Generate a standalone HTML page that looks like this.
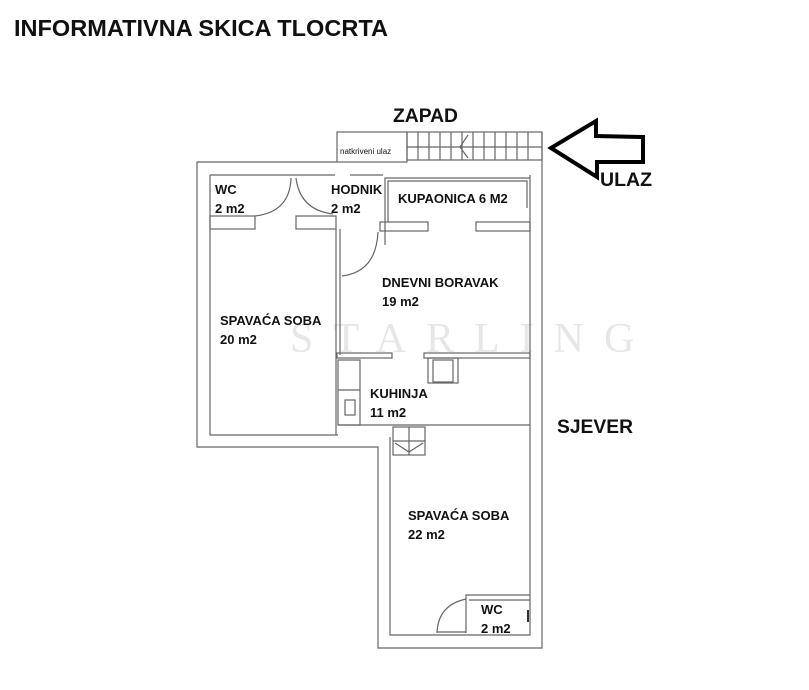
<!DOCTYPE html>
<html><head><meta charset="utf-8"><style>
html,body{margin:0;padding:0;background:#fff;}
svg{display:block;}
text{font-family:"Liberation Sans",Arial,sans-serif;font-weight:bold;fill:#111;}
</style></head><body>
<svg width="809" height="690" viewBox="0 0 809 690" xmlns="http://www.w3.org/2000/svg">
<text x="290" y="352" font-size="42" fill="#000" fill-opacity="0.1" style="font-family:'Liberation Serif',serif;font-weight:normal" letter-spacing="20">STARLING</text>

<text x="14" y="36" font-size="23" textLength="374" lengthAdjust="spacingAndGlyphs">INFORMATIVNA SKICA TLOCRTA</text>
<text x="393" y="122" font-size="19" textLength="65" lengthAdjust="spacingAndGlyphs">ZAPAD</text>
<text x="600" y="186" font-size="19" textLength="52" lengthAdjust="spacingAndGlyphs">ULAZ</text>
<text x="557" y="433" font-size="19" textLength="76" lengthAdjust="spacingAndGlyphs">SJEVER</text>

<g fill="none" stroke="#666" stroke-width="1.2">
<polyline points="337,162 197,162 197,447 378,447 378,648 542,648 542,132"/>
<polyline points="210,175 210,435 338,435"/>
<polyline points="390,437 390,635 530,635 530,175"/>
<line x1="338" y1="425" x2="530" y2="425"/>
<line x1="210" y1="175" x2="335" y2="175"/>
<line x1="350" y1="175" x2="383" y2="175"/>
<rect x="337" y="132" width="70" height="30"/>
<rect x="407" y="132" width="135" height="28"/>
<line x1="407" y1="147" x2="542" y2="147"/>
<g>
<line x1="418" y1="132" x2="418" y2="160"/><line x1="429" y1="132" x2="429" y2="160"/>
<line x1="440" y1="132" x2="440" y2="160"/><line x1="451" y1="132" x2="451" y2="160"/>
<line x1="462" y1="132" x2="462" y2="160"/><line x1="473" y1="132" x2="473" y2="160"/>
<line x1="484" y1="132" x2="484" y2="160"/><line x1="495" y1="132" x2="495" y2="160"/>
<line x1="506" y1="132" x2="506" y2="160"/><line x1="517" y1="132" x2="517" y2="160"/>
<line x1="528" y1="132" x2="528" y2="160"/>
<polyline points="468,135 460,147 468,158"/>
</g>
<rect x="210" y="216" width="45" height="13"/>
<rect x="296" y="216" width="40" height="13"/>
<line x1="336" y1="229" x2="336" y2="435"/>
<line x1="340" y1="229" x2="340" y2="355"/>
<path d="M255,216 Q290,212 291,178"/>
<path d="M296,178 Q300,210 333,214"/>
<path d="M342,276 Q376,272 378,232"/>
<polyline points="385,232 385,178 530,178"/>
<polyline points="388,222 388,181 527,181 527,208"/>
<rect x="380" y="222" width="48" height="9"/>
<rect x="476" y="222" width="54" height="9"/>
<line x1="385" y1="232" x2="385" y2="245"/>
<rect x="337" y="353" width="55" height="5"/>
<rect x="424" y="353" width="106" height="5"/>
<rect x="428" y="358" width="30" height="25"/>
<rect x="433" y="360" width="20" height="22"/>
<rect x="338" y="360" width="22" height="65"/>
<line x1="338" y1="390" x2="360" y2="390"/>
<rect x="345" y="400" width="10" height="15"/>
<rect x="393" y="427" width="32" height="28"/>
<line x1="393" y1="441" x2="425" y2="441"/>
<line x1="409" y1="427" x2="409" y2="455"/>
<polyline points="395,443 409,452 423,443"/>
<polyline points="466,633 466,595 530,595"/>
<polyline points="469,600 530,600"/>
<path d="M466,599 Q438,605 437,633"/>
<line x1="437" y1="632" x2="466" y2="632"/>
<line x1="528" y1="610" x2="528" y2="622" stroke="#333" stroke-width="2"/>
</g>
<text x="340" y="154" font-size="8" fill="#555" style="font-weight:normal">natkriveni ulaz</text>

<path d="M551,148 L596,121 L596,136 L643,137 L643,162 L597,162 L597,177 Z" fill="none" stroke="#000" stroke-width="4" stroke-linejoin="miter"/>

<g font-size="13">
<text x="215" y="194">WC</text><text x="215" y="213">2 m2</text>
<text x="331" y="194">HODNIK</text><text x="331" y="213">2 m2</text>
<text x="398" y="203">KUPAONICA 6 M2</text>
<text x="382" y="287">DNEVNI BORAVAK</text><text x="382" y="306">19 m2</text>
<text x="220" y="325">SPAVAĆA SOBA</text><text x="220" y="344">20 m2</text>
<text x="370" y="398">KUHINJA</text><text x="370" y="417">11 m2</text>
<text x="408" y="520">SPAVAĆA SOBA</text><text x="408" y="539">22 m2</text>
<text x="481" y="614">WC</text><text x="481" y="633">2 m2</text>
</g>
</svg>
</body></html>
